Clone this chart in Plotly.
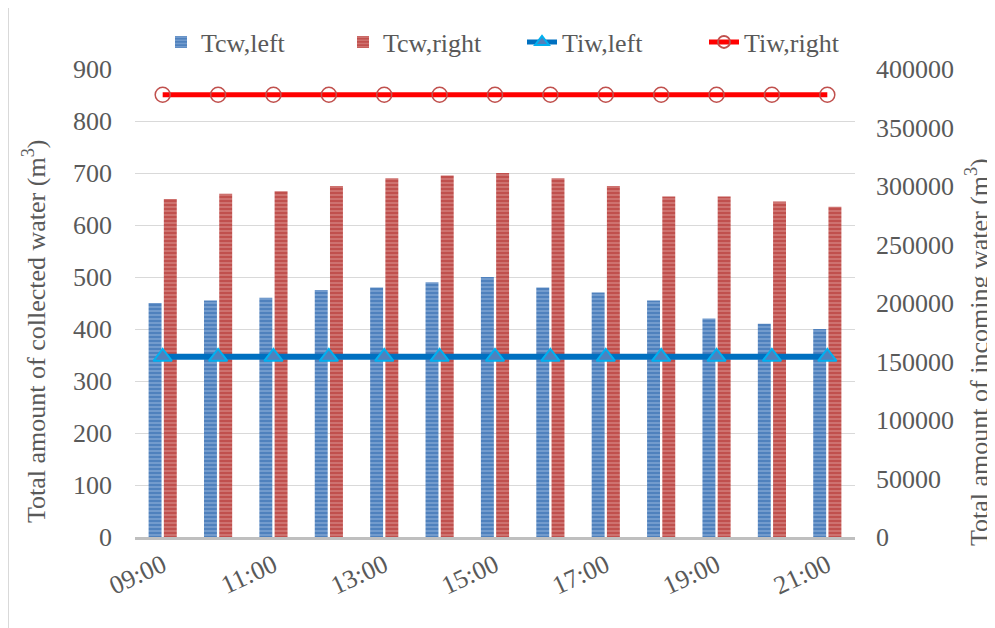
import plotly.graph_objects as go

categories = ["09:00", "10:00", "11:00", "12:00", "13:00", "14:00", "15:00",
              "16:00", "17:00", "18:00", "19:00", "20:00", "21:00"]
tcw_left = [450, 455, 460, 475, 480, 490, 500, 480, 470, 455, 420, 410, 400]
tcw_right = [650, 660, 665, 675, 690, 695, 700, 690, 675, 655, 655, 645, 635]
tiw_left = [154000] * 13
tiw_right = [378000] * 13
x_tick_labels = ["09:00", "11:00", "13:00", "15:00", "17:00", "19:00", "21:00"]

FONT = "Liberation Serif, Times New Roman, serif"
GRAY = "#595959"
FS = 26

# page offset from default body margin
OFF = 8
W, H = 995 - OFF, 628 - OFF
# plot area geometry (page pixels)
L, R, T, B = 135, 855, 69, 537
PW, PH = R - L, B - T

def px(x):
    return (x - L) / PW

def py(y):
    return (B - y) / PH

fig = go.Figure()
fig.add_trace(go.Bar(
    x=categories, y=tcw_left, name="Tcw,left", legend="legend",
    marker=dict(color="#4f81bd", line=dict(width=0),
                pattern=dict(shape="-", fgcolor="#b4cbeb", size=4, solidity=0.35)),
    yaxis="y"))
fig.add_trace(go.Bar(
    x=categories, y=tcw_right, name="Tcw,right", legend="legend",
    marker=dict(color="#c0504d", line=dict(width=0),
                pattern=dict(shape="-", fgcolor="#e8b0af", size=4, solidity=0.35)),
    yaxis="y"))
fig.add_trace(go.Scatter(
    x=categories, y=tiw_left, name="Tiw,left", mode="lines+markers", legend="legend2",
    line=dict(color="#0070c0", width=6),
    marker=dict(symbol="triangle-up", size=16, color="#4f81bd",
                line=dict(color="#00b0f0", width=2)),
    yaxis="y2"))
fig.add_trace(go.Scatter(
    x=categories, y=tiw_right, name="Tiw,right", mode="lines+markers", legend="legend2",
    line=dict(color="#ff0000", width=5),
    marker=dict(symbol="circle", size=15, color="rgba(0,0,0,0)",
                line=dict(color="#c0504d", width=1.5)),
    yaxis="y2"))

legend_common = dict(orientation="h", xref="container", yref="container",
                     xanchor="left", y=1 - (42 - OFF) / H, yanchor="middle",
                     entrywidth=137, entrywidthmode="pixels",
                     font=dict(family=FONT, size=FS, color=GRAY),
                     bgcolor="rgba(0,0,0,0)", itemsizing="constant",
                     tracegroupgap=0)

fig.update_layout(
    width=W, height=H,
    margin=dict(l=L - OFF, r=W - (R - OFF), t=T - OFF, b=H - (B - OFF), autoexpand=False),
    paper_bgcolor="white", plot_bgcolor="white",
    font=dict(family=FONT, size=FS, color=GRAY),
    barmode="group", bargap=0.45, bargroupgap=0.15,
    showlegend=True,
    legend=dict(legend_common, x=(161 - OFF) / W),
    legend2=dict(legend_common, x=(522 - OFF) / W),
    xaxis=dict(type="category", tickmode="array", tickvals=x_tick_labels,
               ticktext=x_tick_labels, tickangle=-25, automargin=False,
               range=[-0.5, len(categories) - 0.5],
               showline=True, linecolor="#bfbfbf", linewidth=3,
               showgrid=False, ticks="", tickfont=dict(size=FS, color=GRAY)),
    yaxis=dict(range=[0, 900], dtick=100, showgrid=True, gridcolor="#d9d9d9",
               gridwidth=1, zeroline=False, showline=False, ticks="",
               automargin=False,
               ticklabelstandoff=22, tickfont=dict(size=FS, color=GRAY)),
    yaxis2=dict(range=[0, 400000], dtick=50000, overlaying="y", side="right",
                showgrid=False, zeroline=False, showline=False, ticks="",
                automargin=False,
                ticklabelstandoff=20, tickformat="d",
                tickfont=dict(size=FS, color=GRAY)),
    annotations=[
        dict(text="Total amount of collected water (m<sup>3</sup>)", textangle=-90,
             xref="paper", yref="paper", x=px(34), y=py(332),
             xanchor="center", yanchor="middle", showarrow=False,
             font=dict(family=FONT, size=FS, color=GRAY)),
        dict(text="Total amount of incoming water (m<sup>3</sup>)", textangle=-90,
             xref="paper", yref="paper", x=px(977), y=py(352),
             xanchor="center", yanchor="middle", showarrow=False,
             font=dict(family=FONT, size=FS, color=GRAY)),
    ],
    shapes=[
        dict(type="line", xref="paper", yref="paper",
             x0=px(8), x1=px(8), y0=py(7), y1=py(640),
             line=dict(color="#d9d9d9", width=2)),
        dict(type="line", xref="paper", yref="paper",
             x0=px(8), x1=px(1000), y0=py(7), y1=py(7),
             line=dict(color="#d9d9d9", width=2)),
    ],
)

fig.write_html("out.html")
